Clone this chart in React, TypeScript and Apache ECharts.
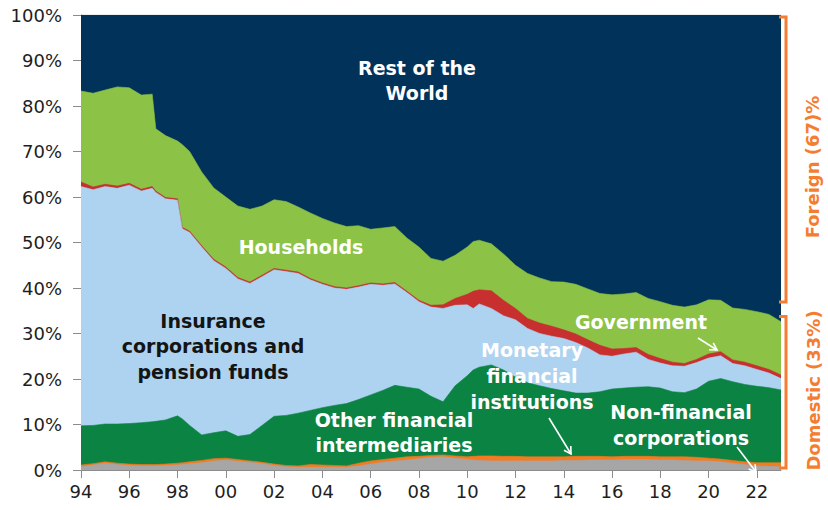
import React, { useEffect, useRef } from "react";
import * as echarts from "echarts";

// Decimal years (x positions of the readings)
const years = [
  1994, 1994.5, 1995, 1995.5, 1996, 1996.5, 1996.95, 1997.1, 1997.5, 1998, 1998.2, 1998.5,
  1999, 1999.5, 2000, 2000.5, 2001, 2001.5, 2002, 2002.5, 2003, 2003.5, 2004, 2004.5,
  2005, 2005.5, 2006, 2006.5, 2007, 2007.5, 2008, 2008.5, 2009, 2009.5, 2010, 2010.25,
  2010.5, 2011, 2011.5, 2012, 2012.5, 2013, 2013.5, 2014, 2014.5, 2015, 2015.5, 2016,
  2016.5, 2017, 2017.5, 2018, 2018.5, 2019, 2019.5, 2020, 2020.5, 2021, 2021.5, 2022,
  2022.5, 2023,
];

// Shares of holdings, % (bottom to top of the stack)
const nonFinancialCorporations = [
  0.7, 1.1, 1.5, 1.2, 1.0, 0.9, 0.9, 0.9, 1.0, 1.1, 1.2, 1.4, 1.6, 2.0, 2.2, 1.9, 1.7, 1.4, 1.0, 0.7,
  0.6, 0.6, 0.6, 0.6, 0.6, 0.9, 1.3, 1.7, 2.0, 2.2, 2.5, 2.8, 2.9, 2.6, 2.3, 2.2, 2.1, 2.0, 2.0, 2.0,
  2.0, 2.0, 2.0, 2.1, 2.1, 2.2, 2.2, 2.2, 2.3, 2.3, 2.3, 2.2, 2.2, 2.1, 2.0, 2.0, 1.8, 1.5, 1.2, 0.9,
  0.8, 0.7,
];
const monetaryFinancialInstitutions = [
  0.4, 0.3, 0.3, 0.3, 0.3, 0.3, 0.3, 0.3, 0.3, 0.4, 0.4, 0.4, 0.5, 0.5, 0.4, 0.4, 0.3, 0.3, 0.3, 0.3,
  0.3, 0.6, 0.5, 0.4, 0.3, 0.6, 0.7, 0.6, 0.6, 0.7, 0.5, 0.4, 0.4, 0.5, 0.6, 0.8, 1.0, 1.1, 1.0, 1.0,
  0.9, 0.9, 0.9, 0.8, 0.9, 0.8, 0.8, 0.7, 0.7, 0.7, 0.7, 0.7, 0.7, 0.8, 0.8, 0.6, 0.6, 0.6, 0.6, 0.7,
  0.8, 0.9,
];
const otherFinancialIntermediaries = [
  8.6, 8.4, 8.3, 8.6, 8.9, 9.2, 9.4, 9.5, 9.7, 10.4, 9.6, 8.0, 5.6, 5.7, 6.0, 5.1, 5.8, 8.1, 10.5, 11.0,
  11.6, 11.9, 12.6, 13.2, 13.7, 14.0, 14.5, 15.2, 16.0, 15.3, 14.8, 13.0, 11.7, 15.4, 17.8, 19.0, 19.5,
  20.0, 19.0, 17.4, 16.3, 15.6, 15.0, 14.5, 13.9, 13.9, 14.2, 14.9, 15.0, 15.2, 15.3, 15.1, 14.3, 14.1,
  15.0, 16.9, 17.7, 17.3, 17.0, 16.8, 16.5, 16.0,
];
const insurancePension = [
  52.6, 51.8, 52.2, 51.8, 52.4, 50.9, 51.3, 50.3, 48.6, 47.4, 41.8, 42.4, 41.3, 37.8, 35.7, 34.6, 33.2,
  32.7, 32.2, 31.6, 30.7, 28.7, 27.1, 25.8, 25.1, 24.7, 24.3, 23.1, 22.3, 20.8, 19.2, 19.6, 20.5, 17.7,
  15.6, 13.5, 13.9, 12.4, 11.9, 12.6, 11.9, 11.5, 11.5, 11.5, 11.1, 9.9, 8.1, 7.2, 7.5, 7.7, 6.0, 5.5,
  5.7, 5.8, 5.8, 5.1, 5.0, 4.0, 4.1, 3.7, 3.2, 2.5,
];
const government = [
  1.0, 0.6, 0.5, 0.5, 0.4, 0.4, 0.4, 0.3, 0.3, 0.3, 0.3, 0.3, 0.3, 0.3, 0.3, 0.3, 0.3, 0.3, 0.3, 0.3,
  0.3, 0.3, 0.3, 0.3, 0.3, 0.3, 0.3, 0.3, 0.3, 0.3, 0.3, 0.4, 0.8, 1.5, 2.3, 3.8, 3.1, 3.9, 3.4, 2.5,
  2.2, 2.3, 2.2, 1.9, 1.9, 1.8, 2.1, 1.6, 1.2, 1.0, 1.1, 1.0, 0.8, 0.6, 0.7, 0.9, 0.9, 0.8, 0.8, 0.8,
  0.8, 0.8,
];
const households = [
  20.0, 20.6, 20.7, 21.8, 21.0, 20.7, 20.3, 13.7, 13.6, 12.7, 18.2, 17.5, 16.2, 15.7, 15.4, 15.7, 16.0,
  15.2, 15.1, 15.1, 14.3, 14.4, 14.2, 14.0, 13.5, 13.2, 11.8, 12.3, 12.3, 11.7, 11.7, 10.3, 9.6, 9.5,
  10.4, 10.9, 10.9, 10.3, 10.2, 9.5, 9.9, 9.9, 9.8, 10.5, 10.9, 11.2, 11.4, 11.9, 12.0, 12.1, 12.3,
  12.5, 12.5, 12.4, 12.0, 11.9, 11.3, 11.4, 11.6, 11.9, 12.1, 11.7,
];
const restOfWorld = [
  16.7, 17.2, 16.5, 15.8, 16.0, 17.6, 17.4, 25.0, 26.5, 27.7, 28.5, 30.0, 34.5, 38.0, 40.0, 42.0, 42.7,
  42.0, 40.6, 41.0, 42.2, 43.5, 44.7, 45.7, 46.5, 46.3, 47.1, 46.8, 46.5, 49.0, 51.0, 53.5, 54.1, 52.8,
  51.0, 49.8, 49.5, 50.3, 52.5, 55.0, 56.8, 57.8, 58.6, 58.7, 59.2, 60.2, 61.2, 61.5, 61.3, 61.0, 62.3,
  63.0, 63.8, 64.2, 63.7, 62.6, 62.7, 64.4, 64.7, 65.2, 65.8, 67.4,
];

const seriesDefs = [
  { name: "Non-financial corporations", data: nonFinancialCorporations, color: "#A6A6A6" },
  { name: "Monetary financial institutions", data: monetaryFinancialInstitutions, color: "#F47B20" },
  { name: "Other financial intermediaries", data: otherFinancialIntermediaries, color: "#0B8343" },
  { name: "Insurance corporations and pension funds", data: insurancePension, color: "#ADD3F0" },
  { name: "Government", data: government, color: "#C8302F" },
  { name: "Households", data: households, color: "#8CC246" },
  { name: "Rest of the World", data: restOfWorld, color: "#01325A" },
];

const yTicks = { min: 0, max: 100, interval: 10 };
const xTicks = { min: 1994, max: 2023, interval: 2 };

const LABEL_FONT = '"DejaVu Sans", sans-serif';
const ORANGE = "#F47D30";

function label(text: string, x: number, y: number, fill: string, lineHeight = 25.5, size = 19) {
  return {
    type: "text",
    x,
    y,
    z: 100,
    style: {
      text,
      fill,
      fontFamily: LABEL_FONT,
      fontWeight: "bold",
      fontSize: size,
      lineHeight,
      align: "center",
      verticalAlign: "middle",
    },
  };
}

function arrow(x1: number, y1: number, x2: number, y2: number) {
  const dx = x2 - x1;
  const dy = y2 - y1;
  const len = Math.sqrt(dx * dx + dy * dy);
  const ux = -dx / len;
  const uy = -dy / len;
  const a = Math.PI / 6;
  const h = 8;
  const w1 = [x2 + h * (ux * Math.cos(a) - uy * Math.sin(a)), y2 + h * (ux * Math.sin(a) + uy * Math.cos(a))];
  const w2 = [x2 + h * (ux * Math.cos(a) + uy * Math.sin(a)), y2 + h * (-ux * Math.sin(a) + uy * Math.cos(a))];
  const style = { stroke: "#FFFFFF", lineWidth: 1.6, fill: null };
  return [
    { type: "line", z: 100, shape: { x1, y1, x2, y2 }, style },
    { type: "polyline", z: 100, shape: { points: [w1, [x2, y2], w2] }, style },
  ];
}

// Running totals (stack tops): ECharts cannot stack on a value x-axis,
// so each layer is drawn as the area under its cumulative top, largest first.
function buildStackedSeries() {
  const running = years.map(() => 0);
  const built = seriesDefs.map((s) => {
    const tops = years.map((y, i) => {
      running[i] = running[i] + s.data[i];
      return [y, Math.round(running[i] * 100) / 100];
    });
    return {
      name: s.name,
      type: "line",
      symbol: "none",
      showSymbol: false,
      lineStyle: { width: 0.6, color: s.color },
      areaStyle: { color: s.color, opacity: 1, origin: "start" },
      itemStyle: { color: s.color },
      data: tops,
    };
  });
  return built.reverse();
}

export default function App() {
  const ref = useRef<HTMLDivElement>(null);

  useEffect(() => {
    if (!ref.current) return;
    const chart = echarts.init(ref.current, undefined, { renderer: "svg" });
    const option = {
      animation: false,
      backgroundColor: "#FFFFFF",
      grid: { left: 81, top: 15, right: 47, bottom: 40, containLabel: false, outerBoundsMode: "none" },
      xAxis: {
        type: "value",
        min: xTicks.min,
        max: xTicks.max,
        interval: xTicks.interval,
        splitLine: { show: false },
        axisLine: { show: true, lineStyle: { color: "#8C8C8C", width: 1 } },
        axisTick: { show: true, length: 8, lineStyle: { color: "#8C8C8C" } },
        axisLabel: {
          margin: 12,
          color: "#1E1E1E",
          fontFamily: LABEL_FONT,
          fontSize: 18,
          showMaxLabel: false,
          formatter: (v: number) => (v % 2 === 0 ? String(v).slice(2) : ""),
        },
      },
      yAxis: {
        type: "value",
        min: yTicks.min,
        max: yTicks.max,
        interval: yTicks.interval,
        splitLine: { show: false },
        axisLine: { show: true, lineStyle: { color: "#8C8C8C", width: 1 } },
        axisTick: { show: true, length: 8, lineStyle: { color: "#8C8C8C" } },
        axisLabel: {
          margin: 19,
          color: "#1E1E1E",
          fontFamily: LABEL_FONT,
          fontSize: 18,
          formatter: "{value}%",
        },
      },
      series: buildStackedSeries(),
      graphic: [
        label("Rest of the\nWorld", 417, 80.5, "#FFFFFF", 25),
        label("Households", 301, 246.5, "#FFFFFF"),
        label("Insurance\ncorporations and\npension funds", 213, 346.4, "#141414", 25.5),
        label("Government", 641, 321.7, "#FFFFFF"),
        label("Monetary\nfinancial\ninstitutions", 532, 376, "#FFFFFF", 25.8),
        label("Other financial\nintermediaries", 394, 432.5, "#FFFFFF", 25),
        label("Non-financial\ncorporations", 681, 425, "#FFFFFF", 26.6),
        ...arrow(698, 338, 717, 350),
        ...arrow(549, 418, 571, 454),
        ...arrow(737, 447, 756, 472),
        {
          type: "polyline",
          z: 100,
          shape: { points: [[779, 17], [786, 17], [786, 302], [779, 302]] },
          style: { stroke: ORANGE, lineWidth: 3, fill: null },
        },
        {
          type: "polyline",
          z: 100,
          shape: { points: [[779, 316.5], [786, 316.5], [786, 468], [779, 468]] },
          style: { stroke: ORANGE, lineWidth: 3, fill: null },
        },
        {
          type: "text",
          x: 812.5,
          y: 167,
          rotation: Math.PI / 2,
          z: 100,
          style: {
            text: "Foreign (67)%",
            fill: ORANGE,
            fontFamily: LABEL_FONT,
            fontWeight: "bold",
            fontSize: 18,
            align: "center",
            verticalAlign: "middle",
          },
        },
        {
          type: "text",
          x: 813,
          y: 390.5,
          rotation: Math.PI / 2,
          z: 100,
          style: {
            text: "Domestic (33%)",
            fill: ORANGE,
            fontFamily: LABEL_FONT,
            fontWeight: "bold",
            fontSize: 18,
            align: "center",
            verticalAlign: "middle",
          },
        },
      ],
    };
    chart.setOption(option as any);
    return () => chart.dispose();
  }, []);

  return (
    <div
      ref={ref}
      style={{ position: "fixed", left: 0, top: 0, width: 828, height: 510, background: "#FFFFFF" }}
    />
  );
}
